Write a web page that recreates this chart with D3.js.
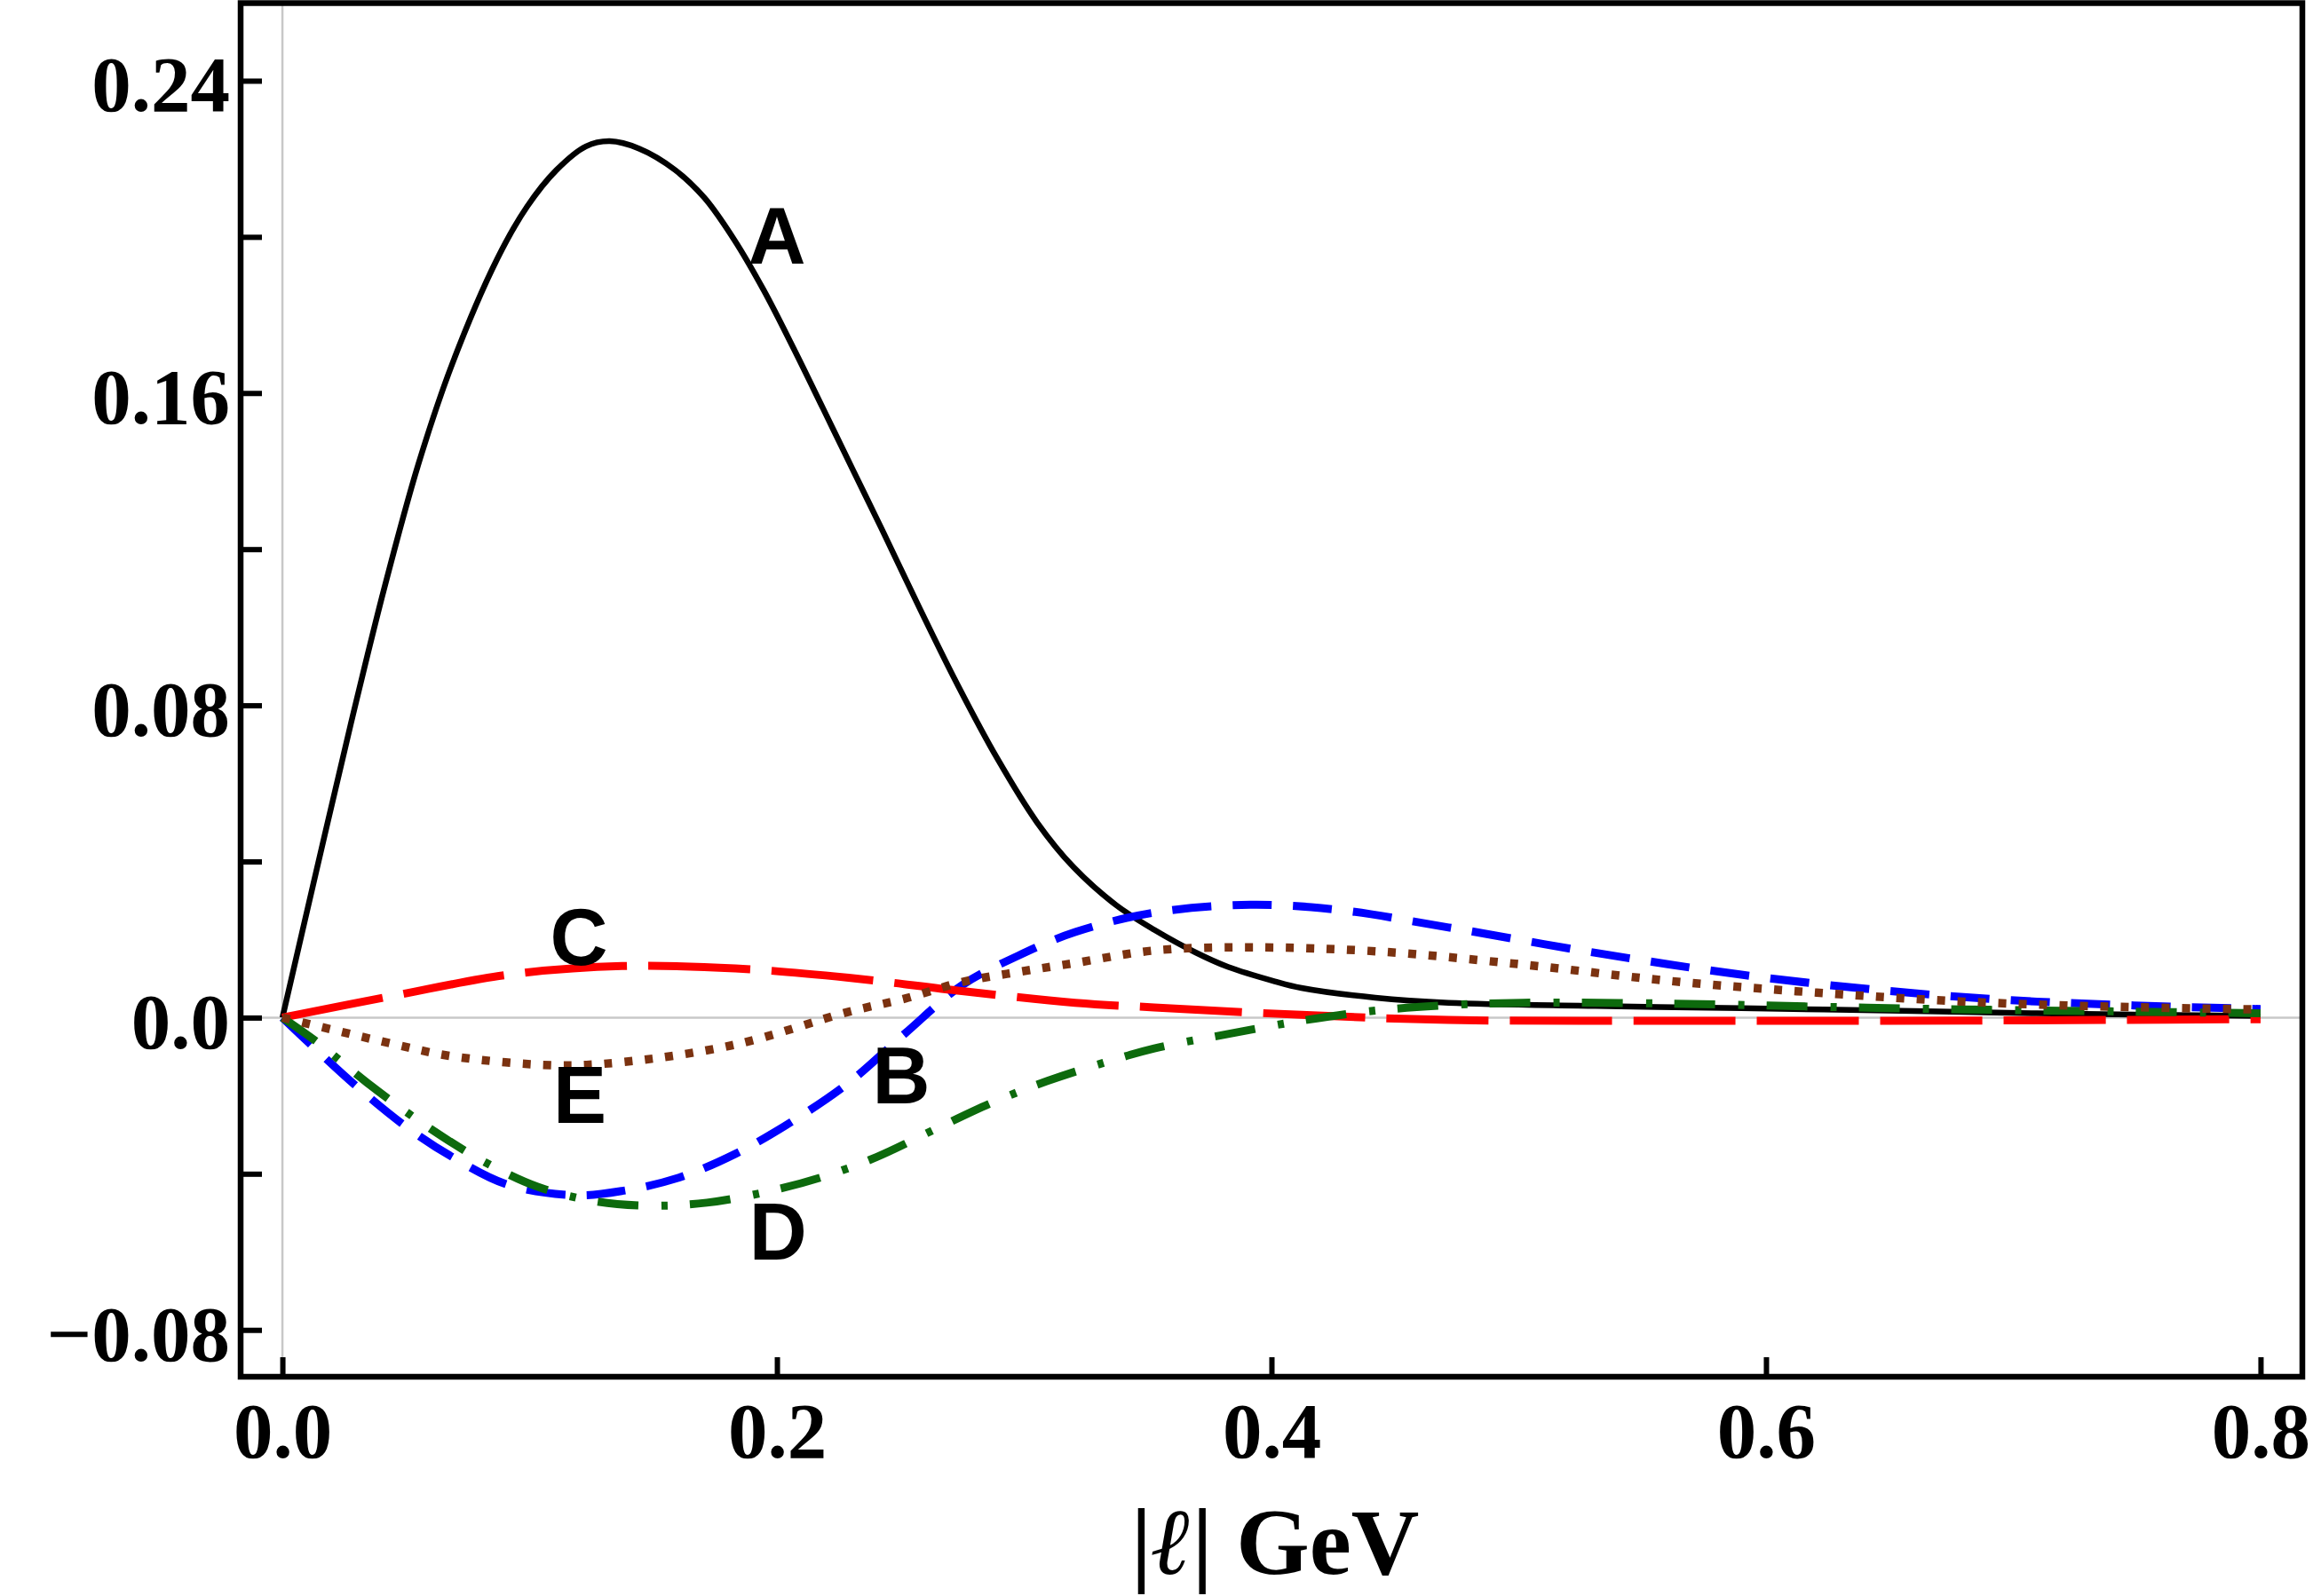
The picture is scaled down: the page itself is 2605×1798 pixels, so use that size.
<!DOCTYPE html>
<html>
<head>
<meta charset="utf-8">
<script src="https://cdn.jsdelivr.net/npm/d3@7"></script>
<style>
  body { margin: 0; background: #fff; }
  .tickLabel { font-family: "Liberation Serif", "Times New Roman", serif; font-weight: bold; font-size: 89px; }
  .curveLabel { font-family: "Liberation Sans", Arial, sans-serif; font-weight: bold; font-size: 90px; }
  .axisText { font-family: "Liberation Serif", "Times New Roman", serif; font-weight: bold; font-size: 106px; }
</style>
</head>
<body>
<script>
// Data
// ==============================
var xA = [0, 0.0137, 0.0275, 0.0412, 0.055, 0.0687, 0.0869, 0.0989, 0.1108, 0.1228, 0.1324, 0.1443, 0.1587, 0.1707, 0.1827, 0.1946, 0.2066, 0.2186, 0.2305, 0.2425, 0.2580, 0.2731, 0.2890, 0.3052, 0.3200, 0.3372, 0.3526, 0.3693, 0.3824, 0.4013, 0.4121, 0.442, 0.4716, 0.531, 0.59, 0.65, 0.7095, 0.8];
var yA = [0, 0.0375, 0.0748, 0.1100, 0.1418, 0.1675, 0.1944, 0.2077, 0.2171, 0.2232, 0.2245, 0.2226, 0.2172, 0.2100, 0.1993, 0.1864, 0.1716, 0.1561, 0.1406, 0.1250, 0.1045, 0.0852, 0.0665, 0.0500, 0.0385, 0.0288, 0.0225, 0.0167, 0.0130, 0.0093, 0.0076, 0.0051, 0.0038, 0.0030, 0.0024, 0.0018, 0.0011, 0.0004];

var xB = [0, 0.0115, 0.0298, 0.0504, 0.0687, 0.0916, 0.1191, 0.1374, 0.1603, 0.1832, 0.2061, 0.229, 0.2519, 0.2748, 0.2977, 0.3206, 0.3526, 0.3914, 0.427, 0.4716, 0.531, 0.59, 0.65, 0.7095, 0.8];
var yB = [0, -0.0069, -0.0175, -0.0281, -0.0357, -0.0429, -0.0455, -0.0444, -0.0410, -0.0349, -0.0266, -0.0167, -0.0040, 0.0083, 0.0159, 0.0219, 0.0269, 0.0289, 0.0276, 0.0231, 0.0166, 0.0110, 0.0068, 0.0041, 0.0022];

var xC = [0, 0.0458, 0.0916, 0.1374, 0.1832, 0.229, 0.2748, 0.3206, 0.3526, 0.4121, 0.4716, 0.561, 0.65, 0.7397, 0.8];
var yC = [0, 0.0057, 0.0110, 0.0132, 0.0126, 0.0102, 0.0068, 0.0038, 0.0026, 0.0007, -0.0006, -0.0008, -0.0008, -0.0006, -0.0004];

var xD = [0, 0.0137, 0.0343, 0.0572, 0.0801, 0.103, 0.126, 0.1488, 0.1717, 0.1946, 0.2175, 0.2404, 0.2633, 0.2862, 0.3091, 0.332, 0.3526, 0.3824, 0.4121, 0.442, 0.4716, 0.5015, 0.561, 0.6205, 0.68, 0.7397, 0.8];
var yD = [0, -0.0061, -0.0167, -0.0273, -0.0364, -0.0433, -0.0470, -0.0482, -0.0474, -0.0448, -0.0410, -0.0357, -0.0288, -0.0220, -0.0163, -0.0116, -0.0079, -0.0042, -0.0008, 0.0018, 0.0032, 0.0038, 0.0036, 0.0028, 0.0021, 0.0016, 0.0011];

var xE = [0, 0.0229, 0.0458, 0.0687, 0.1099, 0.1374, 0.1832, 0.229, 0.2519, 0.2748, 0.2977, 0.3206, 0.3526, 0.3914, 0.442, 0.5015, 0.561, 0.6205, 0.68, 0.7397, 0.8];
var yE = [0, -0.0035, -0.0069, -0.0099, -0.0122, -0.0114, -0.0069, 0.0015, 0.0049, 0.0091, 0.0117, 0.0140, 0.0172, 0.0180, 0.0170, 0.0136, 0.0094, 0.0064, 0.0041, 0.0028, 0.0021];

var seriesNames = ["A", "B", "C", "D", "E"];

var xTicks = [0, 0.2, 0.4, 0.6, 0.8];
var xTickLabels = ["0.0", "0.2", "0.4", "0.6", "0.8"];
var yTicks = [-0.08, -0.04, 0, 0.04, 0.08, 0.12, 0.16, 0.20, 0.24];
var yTickLabels = ["\u22120.08", "", "0.0", "", "0.08", "", "0.16", "", "0.24"];

// label anchors (x, baseline y) in data units
var labelX = [0.200, 0.2503, 0.1199, 0.2004, 0.1203];
var labelY = [0.1932, -0.0219, 0.0135, -0.0620, -0.0270];

// Set up svg
var svgWidth = 2605;
var svgHeight = 1798;

var frame = { left: 271, top: 3.5, right: 2593, bottom: 1551 };

var svg = d3.select("body")
  .append("svg")
  .attr("width", svgWidth)
  .attr("height", svgHeight);

// Scales
var xScale = d3.scaleLinear().domain([-0.0169, 0.8169]).range([frame.left, frame.right]);
var yScale = d3.scaleLinear().domain([-0.092, 0.26]).range([frame.bottom, 3]);

// Grid lines through zero
svg.append("line")
  .attr("x1", xScale(0)).attr("x2", xScale(0))
  .attr("y1", frame.top).attr("y2", frame.bottom)
  .attr("stroke", "#c8c8c8").attr("stroke-width", 2.5);

svg.append("line")
  .attr("x1", frame.left).attr("x2", frame.right)
  .attr("y1", yScale(0)).attr("y2", yScale(0))
  .attr("stroke", "#c8c8c8").attr("stroke-width", 2.5);

// Curves
var styles = {
  A: { color: "#000000", width: 6.5, dash: null },
  B: { color: "#0000ff", width: 9, dash: "44,24" },
  C: { color: "#ff0000", width: 9, dash: "115,24" },
  D: { color: "#0d6a0d", width: 9, dash: "46,26,7,25" },
  E: { color: "#7b3210", width: 9.5, dash: "9,14" }
};

var xs = { A: xA, B: xB, C: xC, D: xD, E: xE };
var ys = { A: yA, B: yB, C: yC, D: yD, E: yE };

var line = d3.line()
  .x(d => xScale(d[0]))
  .y(d => yScale(d[1]))
  .curve(d3.curveCatmullRom.alpha(0.5));

seriesNames.forEach(function(name) {
  var pts = xs[name].map((v, i) => [v, ys[name][i]]);
  var st = styles[name];
  svg.append("path")
    .datum(pts)
    .attr("fill", "none")
    .attr("stroke", st.color)
    .attr("stroke-width", st.width)
    .attr("stroke-linecap", "butt")
    .attr("stroke-linejoin", "round")
    .attr("stroke-dasharray", st.dash)
    .attr("d", line);
});

// Axes (ticks point inward)
var bottomAxis = d3.axisBottom(xScale)
  .tickValues(xTicks)
  .tickSize(-22)
  .tickFormat((d, i) => xTickLabels[i]);

var leftAxis = d3.axisLeft(yScale)
  .tickValues(yTicks)
  .tickSize(-24)
  .tickPadding(12)
  .tickFormat((d, i) => yTickLabels[i]);

var gx = svg.append("g")
  .attr("transform", `translate(0, ${frame.bottom})`)
  .call(bottomAxis);

var gy = svg.append("g")
  .attr("transform", `translate(${frame.left}, 0)`)
  .call(leftAxis);

[gx, gy].forEach(function(g) {
  g.attr("font-size", null).attr("font-family", null);
  g.select(".domain").remove();
  g.selectAll(".tick line").attr("stroke", "#000").attr("stroke-width", 6);
  g.selectAll(".tick text")
    .attr("class", "tickLabel")
    .attr("fill", "#000");
});

gx.selectAll(".tick text").attr("y", 91).attr("dy", 0);
gy.selectAll(".tick text").attr("dy", 34);

// Frame
svg.append("rect")
  .attr("x", frame.left)
  .attr("y", frame.top)
  .attr("width", frame.right - frame.left)
  .attr("height", frame.bottom - frame.top)
  .attr("fill", "none")
  .attr("stroke", "#000")
  .attr("stroke-width", 6.5);

// Curve labels
svg.selectAll(".curveLabel")
  .data(seriesNames)
  .enter()
  .append("text")
  .attr("class", "curveLabel")
  .attr("text-anchor", "middle")
  .attr("x", (d, i) => xScale(labelX[i]))
  .attr("y", (d, i) => yScale(labelY[i]))
  .text(d => d);

// Axis title
var title = svg.append("text")
  .attr("class", "axisText")
  .attr("text-anchor", "middle")
  .attr("x", 1436)
  .attr("y", 1773);
title.append("tspan").text("|");
title.append("tspan").attr("font-style", "italic").text("\u2113");
title.append("tspan").text("| GeV");
</script>
</body>
</html>
